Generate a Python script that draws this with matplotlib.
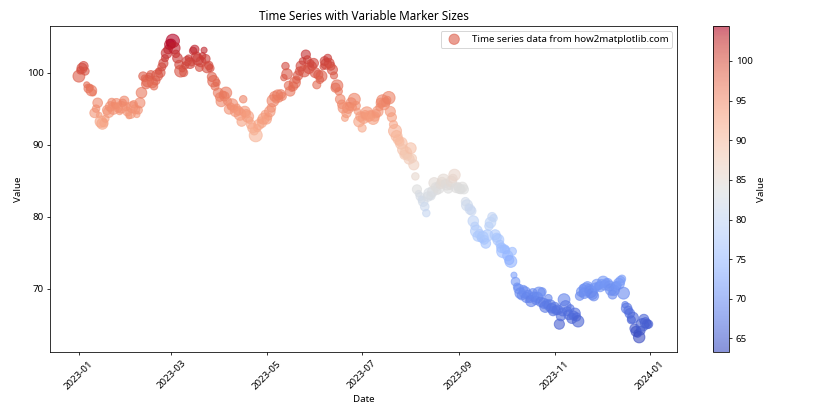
import numpy as np
import pandas as pd
import matplotlib
matplotlib.use('Agg')
import matplotlib.pyplot as plt

plt.rcParams['font.family'] = ['Noto Sans', 'DejaVu Sans']

# Daily values, one list per month of 2023
jan = [99.5, 100.3, 100.6, 100.9, 100.2, 98.3, 97.8, 97.9, 97.5, 97.2, 94.4, 95.0, 95.8, 94.1, 93.2, 92.9,
       93.0, 93.6, 94.8, 94.5, 95.3, 95.9, 95.0, 95.4, 95.7, 95.1, 94.6, 95.2, 95.8, 96.1, 95.3]
feb = [94.6, 94.0, 94.3, 95.2, 95.6, 94.9, 94.2, 94.8, 95.8, 97.2, 99.5, 99.2, 98.4, 98.8, 99.4, 99.7,
       98.6, 98.1, 98.9, 99.6, 100.2, 100.0, 100.8, 101.3, 102.0, 102.7, 103.2, 103.9]
mar = [104.0, 104.4, 103.4, 102.6, 102.0, 101.1, 100.2, 100.5, 100.0, 101.0, 101.6, 102.0, 101.3, 101.3,
       103.0, 103.2, 102.2, 101.8, 100.7, 101.5, 102.3, 103.1, 101.9, 100.7, 101.0, 100.6, 99.4, 98.8,
       98.1, 98.6, 97.2]
apr = [96.6, 96.0, 96.9, 96.7, 97.2, 96.0, 94.9, 95.3, 95.6, 95.0, 94.6, 95.2, 94.7, 94.2, 93.2, 96.3,
       94.6, 94.3, 93.9, 93.4, 92.8, 92.3, 91.9, 91.3, 92.3, 92.8, 93.4, 93.0, 93.6, 94.2]
may = [93.5, 93.9, 94.6, 95.1, 96.1, 96.7, 96.3, 96.9, 96.4, 97.0, 96.7, 99.3, 100.9, 99.8, 98.2, 97.4,
       97.8, 98.1, 98.6, 99.0, 99.6, 100.2, 100.9, 101.6, 100.2, 102.5, 101.8, 100.6, 101.3, 100.9, 101.3]
jun = [100.0, 98.3, 99.7, 99.0, 99.5, 100.8, 101.6, 101.2, 102.0, 101.3, 100.9, 100.4, 99.6, 97.9, 98.2,
       97.4, 96.3, 95.6, 95.1, 93.7, 94.4, 95.1, 95.3, 95.8, 95.2, 96.3, 95.4, 94.6, 93.2, 93.9]
jul = [92.3, 93.7, 94.1, 94.4, 93.8, 94.0, 94.2, 93.6, 93.9, 94.3, 94.6, 95.2, 95.8, 96.1, 95.6, 95.9,
       96.2, 96.5, 94.6, 93.8, 92.8, 91.9, 91.2, 90.7, 90.4, 90.2, 89.3, 88.6, 88.9, 88.4, 88.0]
aug = [89.5, 88.1, 87.2, 85.6, 83.8, 83.2, 82.8, 82.4, 82.1, 81.4, 80.5, 82.8, 83.2, 82.9, 83.5, 84.7,
       84.1, 83.6, 84.0, 84.5, 84.8, 85.1, 84.6, 84.4, 83.9, 84.3, 84.9, 85.3, 85.8, 84.0, 84.2]
sep = [83.9, 83.8, 84.1, 83.8, 82.1, 81.6, 81.3, 81.0, 80.8, 79.4, 78.7, 78.0, 77.3, 77.6, 77.0, 77.2,
       76.8, 76.3, 77.4, 78.7, 79.2, 80.0, 79.8, 77.5, 77.1, 76.8, 76.2, 75.7, 75.2, 75.5]
oct_ = [75.4, 74.6, 74.0, 73.8, 75.2, 71.9, 71.0, 70.3, 70.0, 69.4, 69.1, 69.9, 69.5, 68.8, 69.2, 68.6,
        68.3, 69.4, 68.9, 68.4, 68.8, 69.4, 68.2, 69.6, 68.0, 67.5, 67.9, 68.7, 67.7, 67.3, 66.9]
nov = [67.4, 67.0, 67.1, 65.1, 66.2, 66.8, 68.5, 67.6, 66.9, 66.4, 67.3, 65.9, 66.3, 66.6, 66.1, 65.5,
       69.0, 69.6, 70.1, 69.4, 69.9, 70.3, 70.0, 69.6, 69.3, 69.0, 70.2, 70.6, 70.4, 70.3]
dec = [70.7, 71.0, 70.5, 70.9, 70.8, 70.4, 69.9, 69.2, 69.8, 70.3, 70.5, 70.7, 71.1, 71.4, 69.4, 67.8,
       67.3, 67.0, 66.6, 65.7, 66.0, 64.5, 64.1, 63.8, 63.3, 64.2, 65.0, 65.8, 65.3, 65.1, 65.1]

# Marker sizes (points^2), estimated per point
sizes_h1 = [150, 60, 110, 90, 70, 40, 80, 55, 120, 45, 95, 60, 100, 35, 140, 130, 70, 55, 90, 120, 100, 65, 140, 50, 110, 80, 45, 150, 60, 90, 75,
            85, 40, 100, 130, 60, 90, 45, 70, 110, 120, 80, 50, 95, 140, 65, 75, 110, 60, 85, 130, 45, 100, 70, 90, 55, 120, 80, 110,
            95, 190, 140, 60, 100, 80, 150, 40, 70, 55, 90, 45, 120, 35, 60, 80, 100, 130, 65, 110, 50, 40, 85, 120, 75, 60, 90, 140, 70, 55, 100,
            80, 120, 65, 95, 140, 70, 100, 55, 130, 60, 110, 45, 85, 150, 95, 60, 120, 75, 140, 50, 90, 100, 70, 180, 60, 110, 45, 85, 130, 70,
            95, 60, 120, 80, 150, 100, 65, 110, 55, 90, 70, 45, 60, 120, 80, 100, 40, 85, 130, 60, 95, 75, 110, 50, 140, 90, 65, 120, 55, 80, 100,
            110, 70, 90, 60, 130, 40, 85, 120, 65, 100, 75, 110, 55, 90, 140, 60, 100, 80, 120, 50, 95, 130, 70, 110, 60, 150, 85, 45, 120, 100]
sizes_h2 = [70, 130, 90, 160, 80, 110, 60, 140, 95, 75, 120, 55, 100, 150, 130, 85, 60, 170, 110, 90, 70, 180, 130, 100, 80, 150, 120, 90, 140, 70, 110,
            130, 80, 110, 60, 90, 45, 70, 55, 100, 80, 60, 95, 140, 75, 110, 120, 90, 60, 130, 85, 100, 150, 70, 110, 90, 60, 120, 80, 140, 95, 70,
            100, 85, 110, 90, 75, 130, 60, 100, 80, 120, 70, 150, 110, 90, 60, 130, 85, 100, 140, 75, 120, 80, 60, 110, 90, 130, 70, 100, 170, 85,
            60, 110, 90, 150, 70, 40, 80, 60, 100, 120, 90, 75, 140, 110, 85, 60, 130, 90, 100, 75, 120, 160, 95, 70, 110, 130, 85, 60, 140, 100, 90,
            120, 80, 100, 110, 90, 70, 150, 130, 85, 100, 60, 110, 90, 120, 75, 140, 80, 100, 60, 120, 180, 110, 90, 150, 130, 100, 85, 120, 70, 110,
            80, 130, 100, 60, 90, 110, 140, 85, 120, 100, 70, 130, 90, 60, 150, 45, 120, 80, 100, 70, 130, 90, 110, 60, 140, 80, 170, 100, 110, 90, 75]

values = np.array(jan + feb + mar + apr + may + jun + jul + aug + sep + oct_ + nov + dec)
sizes = np.array(sizes_h1 + sizes_h2)
dates = pd.date_range('2023-01-01', periods=len(values), freq='D')

fig = plt.figure(figsize=(12, 6), dpi=70)
ax = fig.add_axes([0.060, 0.162, 0.746, 0.776])
cax = fig.add_axes([0.849, 0.162, 0.019, 0.776])

sc = ax.scatter(dates, values, s=sizes, c=values, cmap='coolwarm', alpha=0.6,
                label='Time series data from how2matplotlib.com')
cbar = fig.colorbar(sc, cax=cax)
cbar.set_label('Value')

ax.set_title('Time Series with Variable Marker Sizes')
ax.set_xlabel('Date')
ax.set_ylabel('Value')
ax.legend(loc='upper right')
plt.setp(ax.get_xticklabels(), rotation=45)

fig.savefig('out.png', dpi=70)
